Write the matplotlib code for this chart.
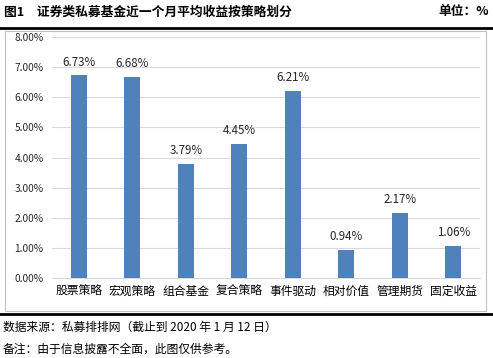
import matplotlib.pyplot as plt
from matplotlib.patches import Rectangle
from matplotlib.lines import Line2D

plt.rcParams['font.family'] = ['Noto Sans CJK SC', 'DejaVu Sans']

# data
strategies = ['股票策略', '宏观策略', '组合基金', '复合策略', '事件驱动', '相对价值', '管理期货', '固定收益']
returns = [6.73, 6.68, 3.79, 4.45, 6.21, 0.94, 2.17, 1.06]
yticks = [0, 1, 2, 3, 4, 5, 6, 7, 8]

fig = plt.figure(figsize=(4.93, 3.58), dpi=100)
W, H = 493, 358

def fx(px):
    return px / W

def fy(py):
    return 1 - py / H

# title row
fig.text(fx(4), fy(12), '图1　证券类私募基金近一个月平均收益按策略划分', fontsize=9.2,
         fontweight='bold', va='center', ha='left')
fig.text(fx(489), fy(12), '单位：%', fontsize=9.2, fontweight='bold', va='center', ha='right')

# frame lines
fig.add_artist(Line2D([0, 1], [fy(28), fy(28)], color='black', lw=2))
fig.add_artist(Rectangle((fx(5), fy(311)), fx(481), fy(31) - fy(311), fill=False,
                         edgecolor='#BFBFBF', lw=0.8))
fig.add_artist(Line2D([0, 1], [fy(314), fy(314)], color='black', lw=2))

# footnotes
fig.text(fx(3), fy(327), '数据来源：私募排排网（截止到 2020 年 1 月 12 日）', fontsize=8.5,
         va='center', ha='left')
fig.text(fx(3), fy(349), '备注：由于信息披露不全面，此图仅供参考。', fontsize=8.5,
         va='center', ha='left')

ax = fig.add_axes([fx(52), fy(278), fx(480) - fx(52), fy(37) - fy(278)])
x = range(len(strategies))
ax.bar(x, returns, width=0.3, color='#4F81BD', zorder=3)
for i, v in zip(x, returns):
    ax.text(i, v + 0.22, f'{v:.2f}%', ha='center', va='bottom', fontsize=8.3, color='#262626')

ax.set_xlim(-0.5, len(strategies) - 0.5)
ax.set_ylim(0, 8)
ax.set_yticks(yticks)
ax.set_yticklabels([f'{t:.2f}%' for t in yticks], fontsize=7.3, color='#262626')
ax.set_xticks(list(x))
ax.set_xticklabels(strategies, fontsize=8.5)
ax.yaxis.grid(True, color='#D9D9D9', lw=0.8, zorder=0)
ax.tick_params(axis='both', length=0)
ax.tick_params(axis='y', pad=6)
ax.tick_params(axis='x', pad=5)
for s in ['top', 'right', 'left']:
    ax.spines[s].set_visible(False)
ax.spines['bottom'].set_color('#D9D9D9')

fig.savefig('out.png', dpi=100)
